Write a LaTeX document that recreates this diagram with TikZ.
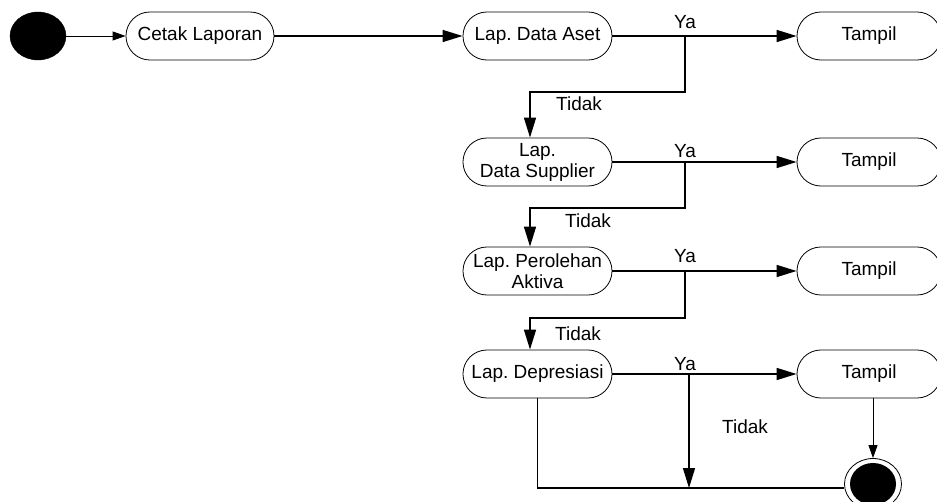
\documentclass[tikz,border=0pt]{standalone}
\usepackage{fontspec}
\setmainfont{Liberation Sans}
\frenchspacing
\usetikzlibrary{arrows.meta,shapes.geometric}
\begin{document}
\begin{tikzpicture}[x=1pt,y=-1pt,
  act/.style={draw, line width=0.8pt, rounded corners=23.9pt, minimum width=149pt, minimum height=48pt, inner sep=0pt, align=center, font=\fontsize{19}{21}\selectfont},
  res/.style={act, minimum width=144pt},
  flow/.style={line width=1.4pt, -{Triangle[length=20pt,width=12pt]}},
  plain/.style={line width=1.4pt},
  thinflow/.style={line width=0.8pt, -{Triangle[length=13pt,width=9pt]}},
  lbl/.style={font=\fontsize{19}{21}\selectfont, inner sep=0pt}]
\clip (0,0) rectangle (937,502);
% start
\node[draw, fill, ellipse, minimum width=56pt, minimum height=48pt, inner sep=0pt] (start) at (38,36) {};
\node[act, minimum width=148pt] (cetak) at (200,36) {Cetak Laporan};
% activities
\node[act] (A1) at (537.5,36) {Lap. Data Aset};
\node[act] (A2) at (537.5,162) {Lap.\\Data Supplier};
\node[act] (A3) at (537.5,271) {Lap. Perolehan\\Aktiva};
\node[act] (A4) at (537.5,374) {Lap. Depresiasi};
% results
\node[res] (T1) at (869,36) {Tampil};
\node[res] (T2) at (869,162) {Tampil};
\node[res] (T3) at (869,271) {Tampil};
\node[res] (T4) at (869,374) {Tampil};
% final
\node[draw, ellipse, line width=0.8pt, minimum width=57pt, minimum height=51pt, inner sep=0pt] (end) at (873,484) {};
\node[fill, ellipse, minimum width=46pt, minimum height=42pt, inner sep=0pt] (endin) at (end) {};
% connectors
\draw[thinflow] (start) -- (cetak);
\draw[flow] (cetak) -- (A1);
\draw[flow] (A1) -- (T1);
\draw[flow] (A2) -- (T2);
\draw[flow] (A3) -- (T3);
\draw[flow] (A4) -- (T4);
% branches
\coordinate (b1) at (685,36);
\coordinate (k1) at (685,92);
\coordinate (m1) at (530,92);
\draw[flow] (b1) -- (k1) -- (m1) -- (m1 |- A2.north);
\coordinate (b2) at (685,162);
\coordinate (k2) at (685,208);
\coordinate (m2) at (530,208);
\draw[flow] (b2) -- (k2) -- (m2) -- (m2 |- A3.north);
\coordinate (b3) at (685,271);
\coordinate (k3) at (685,318);
\coordinate (m3) at (530,318);
\draw[flow] (b3) -- (k3) -- (m3) -- (m3 |- A4.north);
\coordinate (b4) at (689,374);
\draw[plain] (A4.south) |- (end.188);
\draw[flow] (b4) -- (b4 |- end.188);
\draw[thinflow] (T4.south -| end.north) -- (end.north);
% labels
\node[lbl] (ya1) at (685,22) {Ya};
\node[lbl] (ya2) at (685,151) {Ya};
\node[lbl] (ya3) at (685,256) {Ya};
\node[lbl] (ya4) at (685,364) {Ya};
\node[lbl] (td1) at (579,104) {Tidak};
\node[lbl] (td2) at (588,221) {Tidak};
\node[lbl] (td3) at (578,334) {Tidak};
\node[lbl] (td4) at (745,427) {Tidak};
\end{tikzpicture}
\end{document}
